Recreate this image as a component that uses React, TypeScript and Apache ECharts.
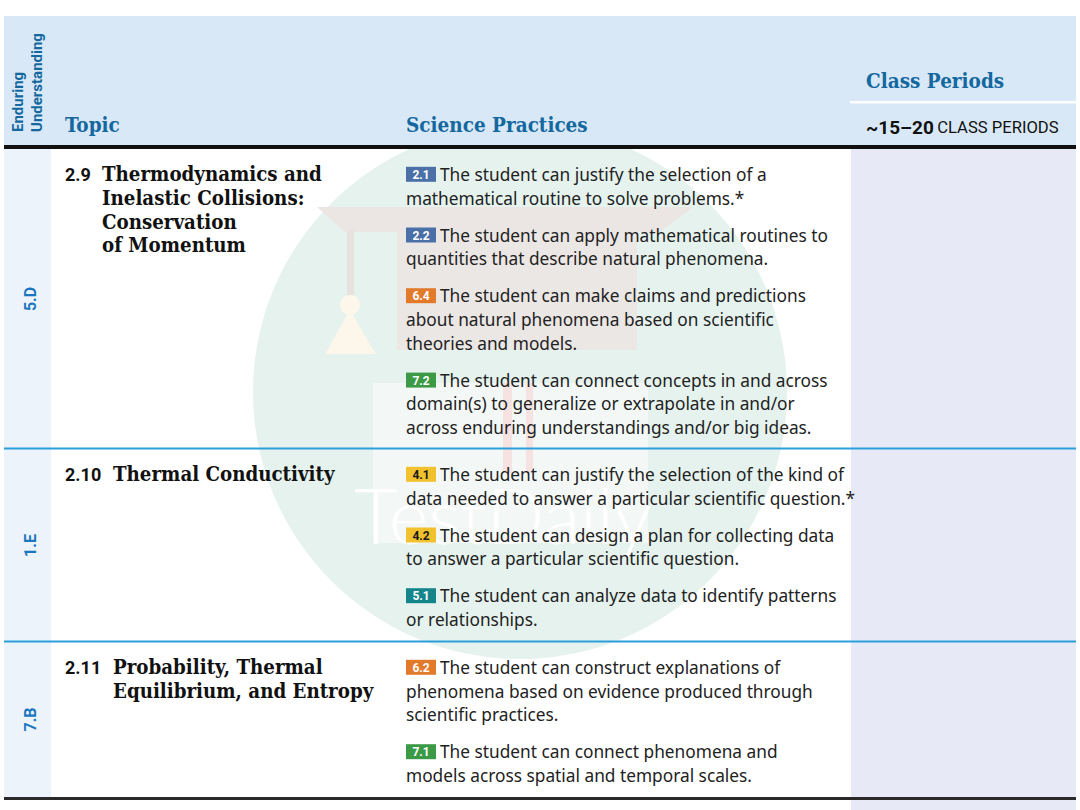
import React, { useEffect, useRef } from "react";
import * as echarts from "echarts";

const euCodes = ["5.D", "1.E", "7.B"];
const topicNumbers = ["2.9", "2.10", "2.11"];
const topicTitles = [
  ["Thermodynamics and", "Inelastic Collisions:", "Conservation", "of Momentum"],
  ["Thermal Conductivity"],
  ["Probability, Thermal", "Equilibrium, and Entropy"],
];
const practiceCodes = [
  ["2.1", "2.2", "6.4", "7.2"],
  ["4.1", "4.2", "5.1"],
  ["6.2", "7.1"],
];
const practiceLines = [
  [
    ["The student can justify the selection of a", "mathematical routine to solve problems.*"],
    ["The student can apply mathematical routines to", "quantities that describe natural phenomena."],
    ["The student can make claims and predictions", "about natural phenomena based on scientific", "theories and models."],
    ["The student can connect concepts in and across", "domain(s) to generalize or extrapolate in and/or", "across enduring understandings and/or big ideas."],
  ],
  [
    ["The student can justify the selection of the kind of", "data needed to answer a particular scientific question.*"],
    ["The student can design a plan for collecting data", "to answer a particular scientific question."],
    ["The student can analyze data to identify patterns", "or relationships."],
  ],
  [
    ["The student can construct explanations of", "phenomena based on evidence produced through", "scientific practices."],
    ["The student can connect phenomena and", "models across spatial and temporal scales."],
  ],
];
const headerEU = ["Enduring", "Understanding"];
const headerTopic = "Topic";
const headerPractices = "Science Practices";
const headerPeriods = "Class Periods";
const periodRange = "~15\u201320";
const periodUnit = "CLASS PERIODS";
const watermarkText = "TestDaily";

const badgeColors: Record<string, string> = {
  "2": "#4b70a8",
  "4": "#f1c12e",
  "5": "#14868b",
  "6": "#e27a2c",
  "7": "#3c9a47",
};

const SERIF = "'DejaVu Serif Condensed', 'DejaVu Serif', serif";
const SANS = "Roboto, 'Noto Sans', sans-serif";
const BODY = "'Noto Sans', Roboto, sans-serif";

function buildGraphics() {
  const L = 4, R = 1076;
  const headerTop = 16, headerBottom = 146;
  const rowTops = [149, 449, 642];
  const tableBottom = 797;
  const euRight = 51;
  const classLeft = 851;
  const lineH = 23.7;
  const itemGap = 13.3;
  const blue = "#14689f";
  const euBlue = "#1a76bd";
  const els: any[] = [];

  // body backgrounds
  els.push({ type: "rect", z: 1, shape: { x: classLeft, y: rowTops[0], width: R - classLeft, height: 810 - rowTops[0] }, style: { fill: "#e8e9f6" } });
  els.push({ type: "rect", z: 1, shape: { x: L, y: rowTops[0], width: euRight - L, height: tableBottom - rowTops[0] }, style: { fill: "#ecf3fb" } });

  // watermark
  els.push({ type: "circle", z: 2, shape: { cx: 520, cy: 392, r: 267 }, style: { fill: "#e5f2ee" } });
  els.push({ type: "polygon", z: 3, shape: { points: [[317, 207], [693, 207], [660, 232], [345, 232]] }, style: { fill: "#ebe6e4" } });
  els.push({ type: "rect", z: 3, shape: { x: 397, y: 232, width: 240, height: 118 }, style: { fill: "#ebe7e5" } });
  els.push({ type: "rect", z: 3, shape: { x: 347, y: 230, width: 7, height: 72 }, style: { fill: "#e6e2e0" } });
  els.push({ type: "circle", z: 3, shape: { cx: 350, cy: 305, r: 10 }, style: { fill: "#fcf7ea" } });
  els.push({ type: "polygon", z: 3, shape: { points: [[350, 310], [376, 354], [325, 354]] }, style: { fill: "#fcf7ea" } });
  els.push({ type: "rect", z: 3, shape: { x: 373, y: 383, width: 275, height: 160 }, style: { fill: "#f3f8f6" } });
  els.push({ type: "rect", z: 3, shape: { x: 503, y: 383, width: 9, height: 90 }, style: { fill: "#f6e2e0" } });
  els.push({ type: "rect", z: 3, shape: { x: 526, y: 383, width: 7, height: 90 }, style: { fill: "#f6e2e0" } });
  els.push({ type: "text", z: 4, x: 503, y: 552, style: { text: watermarkText, font: `300 76px Lato, sans-serif`, fill: "rgba(255,255,255,0.95)", textAlign: "center", textVerticalAlign: "bottom" } });

  // header
  els.push({ type: "rect", z: 5, shape: { x: L, y: headerTop, width: R - L, height: headerBottom - headerTop }, style: { fill: "#d9e8f6" } });
  els.push({ type: "rect", z: 6, shape: { x: 850, y: 101, width: R - 850, height: 2.5 }, style: { fill: "#ffffff" } });
  els.push({ type: "rect", z: 6, shape: { x: L, y: 145, width: R - L, height: 4 }, style: { fill: "#111111" } });

  els.push({ type: "text", z: 7, x: 18, y: 132, rotation: Math.PI / 2, style: { text: headerEU[0], font: `bold 15px ${SANS}`, fill: blue, textAlign: "left", textVerticalAlign: "middle" } });
  els.push({ type: "text", z: 7, x: 37, y: 132, rotation: Math.PI / 2, style: { text: headerEU[1], font: `bold 15px ${SANS}`, fill: blue, textAlign: "left", textVerticalAlign: "middle" } });
  els.push({ type: "text", z: 7, x: 65, y: 125, style: { text: headerTopic, font: `bold 20.5px ${SERIF}`, fill: blue, textAlign: "left", textVerticalAlign: "middle" } });
  els.push({ type: "text", z: 7, x: 406, y: 125, style: { text: headerPractices, font: `bold 20.5px ${SERIF}`, fill: blue, textAlign: "left", textVerticalAlign: "middle" } });
  els.push({ type: "text", z: 7, x: 866, y: 81, style: { text: headerPeriods, font: `bold 20.5px ${SERIF}`, fill: blue, textAlign: "left", textVerticalAlign: "middle" } });
  els.push({
    type: "text", z: 7, x: 866, y: 127,
    style: {
      text: `{b|${periodRange}} {n|${periodUnit}}`,
      textAlign: "left", textVerticalAlign: "middle",
      rich: {
        b: { font: `bold 19px ${SANS}`, fill: "#111111" },
        n: { font: `16.6px ${SANS}`, fill: "#111111" },
      },
    },
  });

  // separators
  els.push({ type: "rect", z: 6, shape: { x: L, y: rowTops[1] - 1.5, width: R - L, height: 2 }, style: { fill: "#2a9fdc" } });
  els.push({ type: "rect", z: 6, shape: { x: L, y: rowTops[2] - 1.5, width: R - L, height: 2 }, style: { fill: "#2a9fdc" } });
  els.push({ type: "rect", z: 6, shape: { x: L, y: tableBottom, width: R - L, height: 3 }, style: { fill: "#2a2a2a" } });

  // rows
  const bottoms = [rowTops[1], rowTops[2], tableBottom];
  rowTops.forEach((top, r) => {
    const mid = (top + bottoms[r]) / 2;
    els.push({ type: "text", z: 7, x: 30, y: mid, rotation: Math.PI / 2, style: { text: euCodes[r], font: `bold 16px ${SANS}`, fill: euBlue, textAlign: "center", textVerticalAlign: "middle" } });

    const firstY = top + 25.3;
    els.push({ type: "text", z: 7, x: 65, y: firstY, style: { text: topicNumbers[r], font: `bold 18px ${SANS}`, fill: "#111111", textAlign: "left", textVerticalAlign: "middle" } });
    const titleX = topicNumbers[r].length > 3 ? 113 : 102;
    topicTitles[r].forEach((t, i) => {
      els.push({ type: "text", z: 7, x: titleX, y: firstY + i * lineH, style: { text: t, font: `bold 20.3px ${SERIF}`, fill: "#111111", textAlign: "left", textVerticalAlign: "middle" } });
    });

    let y = firstY;
    practiceCodes[r].forEach((code, k) => {
      const col = badgeColors[code[0]];
      els.push({ type: "rect", z: 7, shape: { x: 406, y: y - 7.5, width: 30, height: 15 }, style: { fill: col } });
      els.push({ type: "text", z: 8, x: 421, y: y + 0.5, style: { text: code, font: `bold 12px ${SANS}`, fill: code[0] === "4" ? "#1a1a1a" : "#ffffff", textAlign: "center", textVerticalAlign: "middle" } });
      practiceLines[r][k].forEach((ln, i) => {
        els.push({ type: "text", z: 7, x: i === 0 ? 440 : 406, y: y + i * lineH, style: { text: ln, font: `17.3px ${BODY}`, fill: "#222222", textAlign: "left", textVerticalAlign: "middle" } });
      });
      y += practiceLines[r][k].length * lineH + itemGap;
    });
  });
  return els;
}

export default function App() {
  const ref = useRef<HTMLDivElement>(null);
  useEffect(() => {
    if (!ref.current) return;
    const chart = echarts.init(ref.current, undefined, { renderer: "svg" });
    chart.setOption({
      animation: false,
      backgroundColor: "#ffffff",
      graphic: { elements: buildGraphics() },
    });
    return () => chart.dispose();
  }, []);
  return <div ref={ref} style={{ position: "fixed", left: 0, top: 0, width: 1080, height: 810 }} />;
}
